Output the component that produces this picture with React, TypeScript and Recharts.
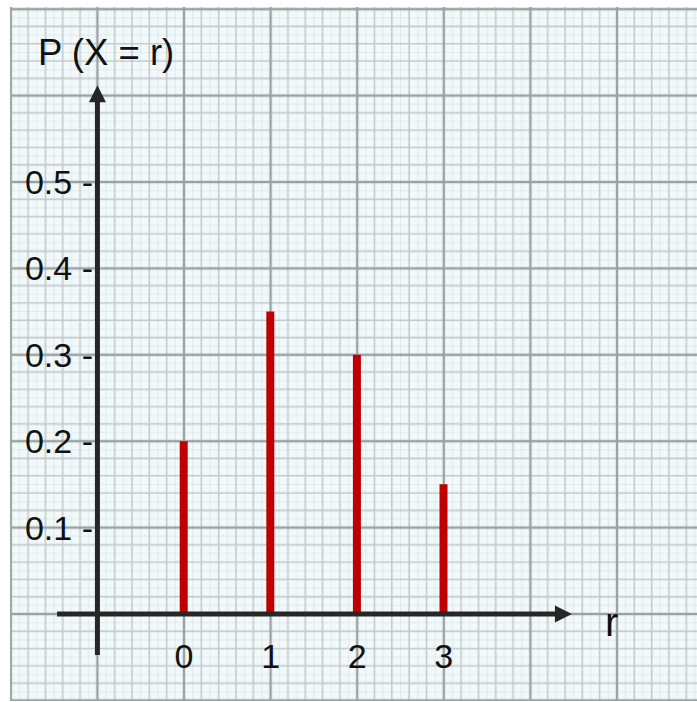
import React from "react";
import { ComposedChart, Bar, XAxis, YAxis, ReferenceLine } from "recharts";

// Probability distribution of r
const outcomes = [0, 1, 2, 3];
const probabilities = [0.2, 0.35, 0.3, 0.15];
const outcomeTicks = [0, 1, 2, 3];
const probabilityTicks = [0.1, 0.2, 0.3, 0.4, 0.5];

const data = outcomes.map((r, i) => ({ r, p: probabilities[i] }));

const WIDTH = 697;
const HEIGHT = 702;
// the plot fills the whole sheet, so the domains run past the axes
const X_DOMAIN: [number, number] = [-2.125, 5.924];
const Y_DOMAIN: [number, number] = [-0.1019, 0.7106];

const FONT = "'Liberation Sans', Arial, sans-serif";
const INK = "#262626";
const BAR_RED = "#c00000";

// graph paper cell: one major square, split in 5 and 10
const CELL_W = 86.6;
const CELL_H = 86.4;

function GraphPaper() {
  const fine = [1, 3, 5, 7, 9];
  const minor = [1, 2, 3, 4];
  return (
    <svg
      width={WIDTH}
      height={HEIGHT}
      style={{ position: "absolute", left: 0, top: 0 }}
    >
      <defs>
        <pattern
          id="paper-grid"
          patternUnits="userSpaceOnUse"
          x={10.8}
          y={9.2}
          width={CELL_W}
          height={CELL_H}
        >
          {fine.map((k) => (
            <g key={`f${k}`} stroke="#e2e9eb" strokeWidth={1}>
              <line x1={(k * CELL_W) / 10} y1={0} x2={(k * CELL_W) / 10} y2={CELL_H} />
              <line x1={0} y1={(k * CELL_H) / 10} x2={CELL_W} y2={(k * CELL_H) / 10} />
            </g>
          ))}
          {minor.map((k) => (
            <g key={`m${k}`} stroke="#c3cacd" strokeWidth={1.6}>
              <line x1={(k * CELL_W) / 5} y1={0} x2={(k * CELL_W) / 5} y2={CELL_H} />
              <line x1={0} y1={(k * CELL_H) / 5} x2={CELL_W} y2={(k * CELL_H) / 5} />
            </g>
          ))}
          <g stroke="#9aa2a5" strokeWidth={2.4}>
            <line x1={0} y1={0} x2={0} y2={CELL_H} />
            <line x1={CELL_W} y1={0} x2={CELL_W} y2={CELL_H} />
            <line x1={0} y1={0} x2={CELL_W} y2={0} />
            <line x1={0} y1={CELL_H} x2={CELL_W} y2={CELL_H} />
          </g>
        </pattern>
      </defs>
      <rect x={10} y={7} width={WIDTH - 10} height={694} fill="#f2f9fa" />
      <rect x={10} y={7} width={WIDTH - 10} height={694} fill="url(#paper-grid)" />
      <text x={38} y={65} fontSize={36.5} fontFamily={FONT} fill="#111">
        P (X = r)
      </text>
      <text x={605} y={636} fontSize={40} fontFamily={FONT} fill="#111">
        r
      </text>
    </svg>
  );
}

// axis line ending in a filled arrow head
function ArrowLine(props: any) {
  const { x1, y1, x2, y2 } = props;
  const dx = x2 - x1;
  const dy = y2 - y1;
  const len = Math.hypot(dx, dy) || 1;
  const ux = dx / len;
  const uy = dy / len;
  const head = 17;
  const half = 8.5;
  const bx = x2 - ux * head;
  const by = y2 - uy * head;
  const px = -uy * half;
  const py = ux * half;
  return (
    <g>
      <line x1={x1} y1={y1} x2={bx + ux} y2={by + uy} stroke={INK} strokeWidth={5} />
      <polygon
        points={`${x2},${y2} ${bx + px},${by + py} ${bx - px},${by - py}`}
        fill={INK}
      />
    </g>
  );
}

function ProbabilityTick({ y, payload }: any) {
  return (
    <text x={93} y={y} dy={12} textAnchor="end" fontSize={34} fontFamily={FONT} fill="#111">
      {`${payload.value} -`}
    </text>
  );
}

function OutcomeTick({ x, payload }: any) {
  return (
    <text x={x} y={668} textAnchor="middle" fontSize={34} fontFamily={FONT} fill="#111">
      {payload.value}
    </text>
  );
}

export default function App() {
  return (
    <div
      style={{
        position: "absolute",
        left: 0,
        top: 0,
        width: WIDTH,
        height: HEIGHT,
        background: "#ffffff",
      }}
    >
      <GraphPaper />
      <div style={{ position: "absolute", left: 0, top: 0 }}>
        <ComposedChart
          width={WIDTH}
          height={HEIGHT}
          data={data}
          margin={{ top: 0, right: 0, bottom: -1, left: -1 }}
        >
          <XAxis
            type="number"
            dataKey="r"
            domain={X_DOMAIN}
            allowDataOverflow
            ticks={outcomeTicks}
            interval={0}
            height={1}
            axisLine={false}
            tickLine={false}
            tick={<OutcomeTick />}
          />
          <YAxis
            type="number"
            domain={Y_DOMAIN}
            allowDataOverflow
            ticks={probabilityTicks}
            interval={0}
            width={1}
            axisLine={false}
            tickLine={false}
            tick={<ProbabilityTick />}
          />
          <Bar dataKey="p" fill={BAR_RED} barSize={8} isAnimationActive={false} />
          <ReferenceLine
            segment={[
              { x: -1, y: -0.0475 },
              { x: -1, y: 0.612 },
            ]}
            shape={ArrowLine}
          />
          <ReferenceLine
            segment={[
              { x: -1.466, y: 0 },
              { x: 4.48, y: 0 },
            ]}
            shape={ArrowLine}
          />
        </ComposedChart>
      </div>
    </div>
  );
}
